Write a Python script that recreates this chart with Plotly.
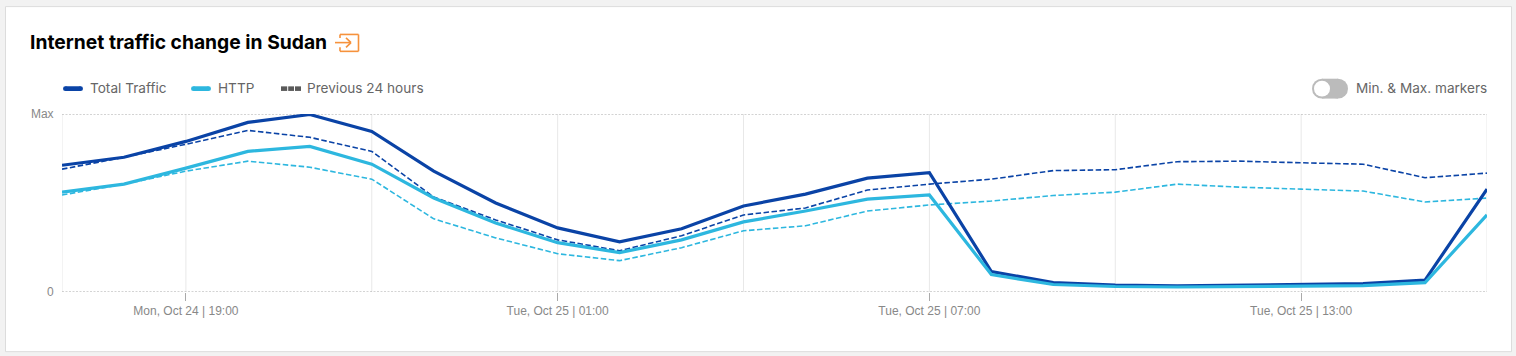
import plotly.graph_objects as go

times = ["2022-10-24 17:00", "2022-10-24 18:00", "2022-10-24 19:00", "2022-10-24 20:00", "2022-10-24 21:00", "2022-10-24 22:00",
         "2022-10-24 23:00", "2022-10-25 00:00", "2022-10-25 01:00", "2022-10-25 02:00", "2022-10-25 03:00", "2022-10-25 04:00",
         "2022-10-25 05:00", "2022-10-25 06:00", "2022-10-25 07:00", "2022-10-25 08:00", "2022-10-25 09:00", "2022-10-25 10:00",
         "2022-10-25 11:00", "2022-10-25 12:00", "2022-10-25 13:00", "2022-10-25 14:00", "2022-10-25 15:00", "2022-10-25 16:00"]
total_traffic = [71.2, 75.7, 84.6, 95.3, 99.7, 90.2, 67.9, 50.0, 36.0, 28.2, 35.5, 48.3, 55.0, 64.0, 67.0, 11.5, 5.3, 3.9, 3.4, 3.9, 4.2, 4.7, 6.7, 57.8]
http_traffic = [56.1, 60.6, 69.6, 79.0, 81.8, 71.8, 52.8, 38.8, 27.7, 22.1, 29.3, 39.4, 45.5, 52.2, 54.5, 9.8, 4.2, 3.1, 2.8, 3.1, 3.4, 3.6, 5.3, 43.3]
prev_total = [69.0, 75.7, 83.0, 90.8, 86.9, 79.0, 53.4, 40.5, 29.3, 23.2, 31.6, 43.3, 47.2, 57.3, 60.6, 63.4, 68.2, 68.7, 73.2, 73.5, 72.6, 71.8, 64.2, 66.8]
prev_http = [54.5, 60.6, 67.9, 73.5, 70.1, 63.4, 41.1, 30.4, 21.5, 17.6, 24.9, 34.4, 37.2, 45.5, 48.9, 51.1, 54.2, 56.1, 60.6, 58.9, 57.8, 56.7, 50.6, 52.8]
label_times = ["2022-10-24 19:00", "2022-10-25 01:00", "2022-10-25 07:00", "2022-10-25 13:00"]
label_text = ["Mon, Oct 24 | 19:00", "Tue, Oct 25 | 01:00", "Tue, Oct 25 | 07:00", "Tue, Oct 25 | 13:00"]
grid_times = [times[0]] + times[2::3]
legend_names = ["Total Traffic", "HTTP", "Previous 24 hours"]

BLUE = "#0a43a6"
CYAN = "#2db7df"
GREY = "#5a5a5a"
ORANGE = "#f6923c"
TEXT = "#666666"
W, H = 1516, 356
L, R, T, B = 62, 1487, 113.5, 292.5

def px(x):
    return (x - L) / (R - L)

def py(y):
    return (B - y) / (B - T)

def seg(x0, y0, x1, y1, color, width=1.6, dash=None):
    return dict(type="line", xref="paper", yref="paper", x0=px(x0), y0=py(y0), x1=px(x1), y1=py(y1),
                line=dict(color=color, width=width, dash=dash))

def disc(cx, cy, r, color):
    return dict(type="circle", xref="paper", yref="paper", x0=px(cx - r), x1=px(cx + r), y0=py(cy - r), y1=py(cy + r),
                fillcolor=color, line_width=0)

def block(x0, x1, y, r, color):
    return dict(type="rect", xref="paper", yref="paper", x0=px(x0), x1=px(x1), y0=py(y - r), y1=py(y + r),
                fillcolor=color, line_width=0)

def pill(x0, x1, y, r, color):
    return [disc(x0 + r, y, r, color), disc(x1 - r, y, r, color), block(x0 + r, x1 - r, y, r, color)]

fig = go.Figure()
fig.add_scatter(x=times, y=prev_total, mode="lines", name="Previous 24 hours", line=dict(color=BLUE, width=1.6, dash="5.5px,2.5px"))
fig.add_scatter(x=times, y=prev_http, mode="lines", name="Previous 24 hours (HTTP)", line=dict(color=CYAN, width=1.6, dash="5.5px,2.5px"))
fig.add_scatter(x=times, y=total_traffic, mode="lines", name="Total Traffic", line=dict(color=BLUE, width=3.2))
fig.add_scatter(x=times, y=http_traffic, mode="lines", name="HTTP", line=dict(color=CYAN, width=3.2))

shapes = [
    dict(type="rect", xref="paper", yref="paper", layer="below", x0=px(5.5), x1=px(1511.5), y0=py(5.5), y1=py(352.5),
         fillcolor="white", line=dict(color="#dcdcdc", width=1)),
]
for t in grid_times:
    shapes.append(dict(type="line", xref="x", yref="paper", layer="below", x0=t, x1=t, y0=0, y1=1,
                       line=dict(color="#e8e8e8", width=1)))
for v in [0, 100]:
    shapes.append(dict(type="line", xref="paper", yref="y", layer="below", x0=0, x1=1, y0=v, y1=v,
                       line=dict(color="#a8a8a8", width=1, dash="2px,1.5px")))
shapes += [
    seg(340, 37, 340, 33.5, ORANGE), seg(340, 33.5, 358.5, 33.5, ORANGE), seg(358.5, 33.5, 358.5, 50.5, ORANGE),
    seg(358.5, 50.5, 340, 50.5, ORANGE), seg(340, 50.5, 340, 46.5, ORANGE),
    seg(335, 41.7, 351, 41.7, ORANGE), seg(346, 37, 351, 41.7, ORANGE), seg(346, 46.5, 351, 41.7, ORANGE),
]
shapes += pill(63, 83, 88, 2.4, BLUE)
shapes += pill(191, 211, 88, 2.4, CYAN)
shapes += [block(281, 287.2, 88, 2.3, GREY), block(288.2, 294, 88, 2.3, GREY), block(295, 301, 88, 2.3, GREY)]
shapes += pill(1312, 1348, 88, 10, "#bbbbbb")
shapes.append(disc(1322, 88, 8, "white"))

def label(text, x, anchor):
    return dict(text=text, xref="paper", yref="paper", x=px(x), y=py(87.6), xanchor=anchor, yanchor="middle",
                showarrow=False, font=dict(size=13.6, color=TEXT))

annotations = [label(legend_names[0], 88, "left"), label(legend_names[1], 216, "left"), label(legend_names[2], 305, "left"),
               label("Min. & Max. markers", 1489, "right")]

fig.update_layout(
    width=W, height=H, showlegend=False,
    margin=dict(l=L, r=W - R, t=T, b=H - B, autoexpand=False),
    paper_bgcolor="#f2f2f2", plot_bgcolor="rgba(0,0,0,0)",
    font=dict(family="Inter, Liberation Sans, sans-serif", color=TEXT, size=13),
    title=dict(text="<b>Internet traffic change in Sudan</b>", xref="container", yref="container",
               x=30 / W, y=1 - 42 / H, xanchor="left", yanchor="middle",
               font=dict(family="Inter, sans-serif", size=19.3, color="#000000")),
    shapes=shapes,
    annotations=annotations,
    xaxis=dict(type="date", range=[times[0], times[-1]], tickmode="array", tickvals=label_times, ticktext=label_text,
               ticks="outside", ticklen=8, tickwidth=1, tickcolor="#aaaaaa", showgrid=False, zeroline=False, showline=False,
               tickfont=dict(family="Liberation Sans, Arial, sans-serif", size=12, color="#888888")),
    yaxis=dict(range=[0, 100], tickmode="array", tickvals=[0, 100], ticktext=["0", "Max"], showgrid=False,
               zeroline=False, showline=False, ticks="outside", ticklen=5, tickcolor="rgba(0,0,0,0)",
               tickfont=dict(family="Liberation Sans, Arial, sans-serif", size=12, color="#888888")),
)

fig.write_html("out.html", config={"displayModeBar": False},
               post_script="document.body.style.margin='0';document.body.style.overflow='hidden';")
